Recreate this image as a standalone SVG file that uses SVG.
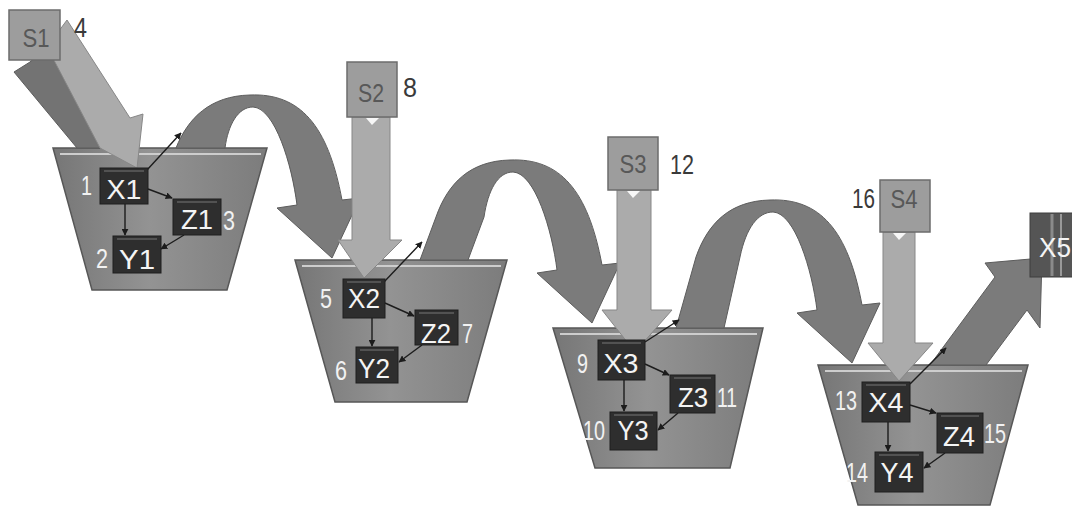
<svg xmlns="http://www.w3.org/2000/svg" width="1072" height="508" viewBox="0 0 1072 508">
<defs>
<linearGradient id="bg" x1="0" y1="0" x2="1" y2="0">
<stop offset="0" stop-color="#767676"/>
<stop offset="0.45" stop-color="#939393"/>
<stop offset="1" stop-color="#7c7c7c"/>
</linearGradient>
<style>
.bucket{fill:url(#bg);stroke:#575757;stroke-width:1.5}
.rim{stroke:#cdcdcd;stroke-width:2}
.arch{fill:#7b7b7b;stroke:#5c5c5c;stroke-width:1}
.sarrow{fill:#ababab;stroke:#878787;stroke-width:1}
.sside{fill:#737373;stroke:#5c5c5c;stroke-width:1}
.sbox{fill:#9d9d9d;stroke:#6c6c6c;stroke-width:1.5}
.stext{font-family:"Liberation Sans",Arial,sans-serif;font-size:26px;fill:#585858;text-anchor:middle}
.num{font-family:"Liberation Sans",Arial,sans-serif;font-size:27px;fill:#3a3a3a}
.wnum{font-family:"Liberation Sans",Arial,sans-serif;font-size:27px;fill:#f2f2f2}
.node{fill:#2e2e2e;stroke:#1e1e1e;stroke-width:1}
.hl{stroke:#777;stroke-width:1.2}
.ntext{font-family:"Liberation Sans",Arial,sans-serif;font-size:28px;fill:#f4f4f4;text-anchor:middle}
.link{stroke:#1c1c1c;stroke-width:1.4;fill:none;marker-end:url(#ah)}
.tri{fill:#f7f7f7}
</style>
<marker id="ah" viewBox="0 0 10 10" refX="9" refY="5" markerWidth="5" markerHeight="5" orient="auto"><path d="M0,0 L10,5 L0,10 Z" fill="#1c1c1c"/></marker>
</defs>
<rect x="0" y="0" width="1072" height="508" fill="#ffffff"/>

<g id="bucket1">
<polygon class="bucket" points="53,148 267,148 227,290 92,290"/>
<line class="rim" x1="60" y1="154" x2="261" y2="154"/>
</g>
<g id="bucket2">
<polygon class="bucket" points="295,260 507,260 467,402 335,402"/>
<line class="rim" x1="302" y1="266" x2="501" y2="266"/>
</g>
<g id="bucket3">
<polygon class="bucket" points="553,328 763,328 730,468 595,468"/>
<line class="rim" x1="560" y1="334" x2="757" y2="334"/>
</g>
<g id="bucket4">
<polygon class="bucket" points="818,365 1028,365 990,505 858,505"/>
<line class="rim" x1="825" y1="371" x2="1022" y2="371"/>
</g>

<g id="connectors">
<path class="arch" d="M 176 148 C 188 118, 210 96, 250 95 C 300 93, 328 125, 342 200 L 360 198 L 332 258 L 277 208 L 297 205 C 292 165, 275 108, 253 107 C 238 107, 228 125, 225 148 Z"/>
<path class="arch" d="M 420 260 L 436 217 C 448 183, 470 161, 510 160 C 560 158, 588 190, 602 265 L 620 263 L 592 323 L 537 273 L 557 270 C 552 230, 535 173, 513 172 C 498 172, 488 190, 484 217 L 468 260 Z"/>
<path class="arch" d="M 676 328 L 696 257 C 708 223, 730 201, 770 200 C 820 198, 848 230, 862 305 L 880 303 L 852 363 L 797 313 L 817 310 C 812 270, 795 213, 773 212 C 758 212, 746 228, 740 257 L 724 328 Z"/>
<path class="arch" d="M 930 365 L 995 277 L 985 263 L 1042 258 L 1040 328 L 1027 310 L 986 365 Z"/>

<path class="sside" d="M 14 72 L 30 62 L 47 47 L 101 148 L 77 148 Z"/>
<path class="sarrow" d="M 47 47 L 67 20 L 130 118 L 143 114 L 137 168 L 100 148 Z"/>
<path class="sarrow" d="M 352 117 L 390 117 L 390 240 L 402 240 L 364 278 L 338 240 L 352 240 Z"/>
<path class="sarrow" d="M 617 190 L 651 190 L 651 310 L 672 310 L 635 352 L 602 310 L 617 310 Z"/>
<path class="sarrow" d="M 883 232 L 915 232 L 915 343 L 933 343 L 899 381 L 868 343 L 883 343 Z"/>
<polygon class="tri" points="366,118 379,118 372,125"/>
<polygon class="tri" points="627,191 640,191 633,198"/>
<polygon class="tri" points="893,233 906,233 899,240"/>

<path class="link" d="M 147 170 L 181 133"/>
<path class="link" d="M 384 282 L 422 242"/>
<path class="link" d="M 645 342 L 679 320"/>
<path class="link" d="M 910 384 L 946 348"/>

<path class="link" d="M 125 204 L 125 235"/>
<path class="link" d="M 148 189 L 172 198"/>
<path class="link" d="M 184 235 L 161 249"/>
<path class="link" d="M 372 318 L 372 346"/>
<path class="link" d="M 385 303 L 414 316"/>
<path class="link" d="M 422 345 L 399 362"/>
<path class="link" d="M 624 380 L 624 411"/>
<path class="link" d="M 645 364 L 669 375"/>
<path class="link" d="M 678 413 L 658 430"/>
<path class="link" d="M 888 422 L 888 451"/>
<path class="link" d="M 910 405 L 936 413"/>
<path class="link" d="M 945 453 L 924 468"/>
</g>

<g id="S1"><rect class="sbox" x="9" y="10" width="51" height="50"/><text class="stext" x="36" y="47" textLength="27" lengthAdjust="spacingAndGlyphs">S1</text><text class="num" x="74" y="37" textLength="13" lengthAdjust="spacingAndGlyphs">4</text></g>
<g id="S2"><rect class="sbox" x="347" y="62" width="50" height="55"/><text class="stext" x="371" y="102" textLength="26" lengthAdjust="spacingAndGlyphs">S2</text><text class="num" x="403" y="97" textLength="14" lengthAdjust="spacingAndGlyphs">8</text></g>
<g id="S3"><rect class="sbox" x="608" y="137" width="50" height="53"/><text class="stext" x="633" y="173" textLength="27" lengthAdjust="spacingAndGlyphs">S3</text><text class="num" x="670" y="174" textLength="24" lengthAdjust="spacingAndGlyphs">12</text></g>
<g id="S4"><rect class="sbox" x="880" y="180" width="50" height="52"/><text class="stext" x="904" y="208" textLength="27" lengthAdjust="spacingAndGlyphs">S4</text><text class="num" x="852" y="208" textLength="23" lengthAdjust="spacingAndGlyphs">16</text></g>

<g id="X1"><rect class="node" x="100" y="168" width="48" height="36"/><line class="hl" x1="104" y1="171" x2="144" y2="171"/><text class="ntext" x="124" y="199" textLength="35" lengthAdjust="spacingAndGlyphs">X1</text><text class="wnum" x="81" y="195" textLength="11" lengthAdjust="spacingAndGlyphs">1</text></g>
<g id="Y1"><rect class="node" x="113" y="236" width="48" height="37"/><line class="hl" x1="117" y1="239" x2="157" y2="239"/><text class="ntext" x="137" y="269" textLength="36" lengthAdjust="spacingAndGlyphs">Y1</text><text class="wnum" x="96" y="268" textLength="12" lengthAdjust="spacingAndGlyphs">2</text></g>
<g id="Z1"><rect class="node" x="173" y="199" width="48" height="36"/><line class="hl" x1="177" y1="202" x2="217" y2="202"/><text class="ntext" x="197" y="229" textLength="32" lengthAdjust="spacingAndGlyphs">Z1</text><text class="wnum" x="223" y="230" textLength="12" lengthAdjust="spacingAndGlyphs">3</text></g>

<g id="X2"><rect class="node" x="343" y="279" width="42" height="39"/><line class="hl" x1="347" y1="282" x2="381" y2="282"/><text class="ntext" x="364" y="308" textLength="32" lengthAdjust="spacingAndGlyphs">X2</text><text class="wnum" x="320" y="308" textLength="12" lengthAdjust="spacingAndGlyphs">5</text></g>
<g id="Y2"><rect class="node" x="356" y="347" width="42" height="36"/><line class="hl" x1="360" y1="350" x2="394" y2="350"/><text class="ntext" x="374" y="378" textLength="32" lengthAdjust="spacingAndGlyphs">Y2</text><text class="wnum" x="335" y="380" textLength="12" lengthAdjust="spacingAndGlyphs">6</text></g>
<g id="Z2"><rect class="node" x="415" y="310" width="43" height="35"/><line class="hl" x1="419" y1="313" x2="454" y2="313"/><text class="ntext" x="436" y="343" textLength="30" lengthAdjust="spacingAndGlyphs">Z2</text><text class="wnum" x="462" y="343" textLength="11" lengthAdjust="spacingAndGlyphs">7</text></g>

<g id="X3"><rect class="node" x="598" y="340" width="47" height="40"/><line class="hl" x1="602" y1="343" x2="641" y2="343"/><text class="ntext" x="621" y="373" textLength="35" lengthAdjust="spacingAndGlyphs">X3</text><text class="wnum" x="577" y="373" textLength="11" lengthAdjust="spacingAndGlyphs">9</text></g>
<g id="Y3"><rect class="node" x="610" y="412" width="47" height="38"/><line class="hl" x1="614" y1="415" x2="653" y2="415"/><text class="ntext" x="633" y="440" textLength="31" lengthAdjust="spacingAndGlyphs">Y3</text><text class="wnum" x="583" y="440" textLength="22" lengthAdjust="spacingAndGlyphs">10</text></g>
<g id="Z3"><rect class="node" x="670" y="375" width="45" height="38"/><line class="hl" x1="674" y1="378" x2="711" y2="378"/><text class="ntext" x="693" y="407" textLength="30" lengthAdjust="spacingAndGlyphs">Z3</text><text class="wnum" x="717" y="407" textLength="20" lengthAdjust="spacingAndGlyphs">11</text></g>

<g id="X4"><rect class="node" x="862" y="382" width="48" height="40"/><line class="hl" x1="866" y1="385" x2="906" y2="385"/><text class="ntext" x="886" y="412" textLength="35" lengthAdjust="spacingAndGlyphs">X4</text><text class="wnum" x="835" y="410" textLength="22" lengthAdjust="spacingAndGlyphs">13</text></g>
<g id="Y4"><rect class="node" x="875" y="452" width="48" height="40"/><line class="hl" x1="879" y1="455" x2="919" y2="455"/><text class="ntext" x="897" y="482" textLength="33" lengthAdjust="spacingAndGlyphs">Y4</text><text class="wnum" x="846" y="482" textLength="22" lengthAdjust="spacingAndGlyphs">14</text></g>
<g id="Z4"><rect class="node" x="937" y="413" width="46" height="40"/><line class="hl" x1="941" y1="416" x2="979" y2="416"/><text class="ntext" x="959" y="446" textLength="32" lengthAdjust="spacingAndGlyphs">Z4</text><text class="wnum" x="984" y="443" textLength="22" lengthAdjust="spacingAndGlyphs">15</text></g>

<g id="X5"><rect x="1030" y="213" width="44" height="64" fill="#555555" stroke="#3e3e3e" stroke-width="1"/><line x1="1052" y1="214" x2="1052" y2="276" stroke="#8a8a8a" stroke-width="3"/><line x1="1061" y1="214" x2="1061" y2="276" stroke="#9a9a9a" stroke-width="2"/><text class="ntext" x="1055" y="257" textLength="32" lengthAdjust="spacingAndGlyphs">X5</text></g>
</svg>
